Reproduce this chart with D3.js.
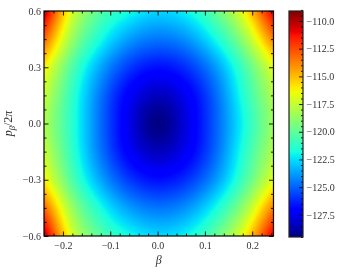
<!DOCTYPE html>
<html><head><meta charset="utf-8">
<script src="https://cdn.jsdelivr.net/npm/d3@7"></script>
<style>
body{margin:0;background:#fff}
#wrap{position:relative;width:340px;height:272px}
canvas,svg{position:absolute;left:0;top:0}
</style></head>
<body><div id="wrap"><canvas id="cv" width="340" height="272"></canvas><svg id="sv" width="340" height="272"></svg></div>
<script>
// ---- data ----
const betaGrid = [-0.24,-0.18,-0.12,-0.06,0,0.06,0.12,0.18,0.24];
const pGrid = [0.6,0.45,0.3,0.15,0,-0.15,-0.3,-0.45,-0.6];
const row_p060 = [-110.0,-117.0,-120.2,-121.8,-122.6,-122.0,-120.0,-116.5,-111.0];
const row_p045 = [-113.0,-118.6,-121.8,-123.8,-124.6,-124.0,-122.0,-118.8,-114.0];
const row_p030 = [-116.0,-120.4,-123.6,-125.8,-126.7,-126.0,-124.0,-120.8,-117.0];
const row_p015 = [-117.4,-121.2,-124.6,-127.2,-128.4,-127.4,-125.0,-121.6,-118.2];
const row_p000 = [-118.0,-121.4,-124.8,-127.6,-129.4,-127.8,-125.2,-122.0,-118.7];
const row_m015 = [-117.4,-121.2,-124.6,-127.2,-128.4,-127.4,-125.0,-121.6,-118.2];
const row_m030 = [-116.0,-120.4,-123.6,-125.8,-126.7,-126.0,-124.0,-120.8,-117.0];
const row_m045 = [-113.0,-118.6,-121.8,-123.8,-124.6,-124.0,-122.0,-118.8,-114.0];
const row_m060 = [-110.0,-117.0,-120.2,-121.8,-122.6,-122.0,-120.0,-116.5,-111.0];
const zRows = [row_p060,row_p045,row_p030,row_p015,row_p000,row_m015,row_m030,row_m045,row_m060];
const xTicks = [-0.2,-0.1,0,0.1,0.2];
const yTicks = [-0.6,-0.3,0,0.3,0.6];
const cTicks = [-110,-112.5,-115,-117.5,-120,-122.5,-125,-127.5];
const xDomain = [-0.24,0.245];
const yDomain = [-0.6,0.6];
const cDomain = [-129.5,-109.1];

// ---- layout ----
const L=44, R=273.5, T=11, B=236;
const CBL=289, CBR=303, CBT=11, CBB=237;
const x = d3.scaleLinear().domain(xDomain).range([L,R]);
const y = d3.scaleLinear().domain(yDomain).range([B,T]);
const cs = d3.scaleLinear().domain(cDomain).range([CBB,CBT]);
const tnorm = d3.scaleLinear().domain(cDomain).range([0,1]).clamp(true);

// jet colormap
const jr = d3.scaleLinear().domain([0,0.35,0.66,0.89,1]).range([0,0,1,1,0.5]).clamp(true);
const jg = d3.scaleLinear().domain([0,0.125,0.375,0.64,0.91,1]).range([0,0,1,1,0,0]).clamp(true);
const jb = d3.scaleLinear().domain([0,0.11,0.34,0.65,1]).range([0.5,1,1,0,0]).clamp(true);
function jet(v){const t=tnorm(v);return [jr(t)*255,jg(t)*255,jb(t)*255];}

// smooth rendering of the grid (Catmull-Rom)
function cr(p0,p1,p2,p3,t){return 0.5*((2*p1)+(-p0+p2)*t+(2*p0-5*p1+4*p2-p3)*t*t+(-p0+3*p1-3*p2+p3)*t*t*t);}
function colVal(r,c){
  const nc=betaGrid.length;
  if(c<0) return 2*zRows[r][0]-zRows[r][1];
  if(c>nc-1) return 2*zRows[r][nc-1]-zRows[r][nc-2];
  return zRows[r][c];
}
function getv(r,c){
  const nr=zRows.length;
  if(r<0) return 2*colVal(0,c)-colVal(1,c);
  if(r>nr-1) return 2*colVal(nr-1,c)-colVal(nr-2,c);
  return colVal(r,c);
}
function sample(bx,py){
  const nc=betaGrid.length,nr=pGrid.length;
  const gx=(bx-betaGrid[0])/(betaGrid[1]-betaGrid[0]);
  const gy=(py-pGrid[0])/(pGrid[1]-pGrid[0]);
  const i=Math.max(0,Math.min(nc-2,Math.floor(gx))), tx=gx-i;
  const j=Math.max(0,Math.min(nr-2,Math.floor(gy))), ty=gy-j;
  const rows=[];
  for(let k=-1;k<=2;k++){
    rows.push(cr(getv(j+k,i-1),getv(j+k,i),getv(j+k,i+1),getv(j+k,i+2),tx));
  }
  return cr(rows[0],rows[1],rows[2],rows[3],ty);
}

const cv=document.getElementById('cv'), ctx=cv.getContext('2d');
const x0=Math.round(L), x1=Math.round(R), y0=Math.round(T), y1=Math.round(B);
const img=ctx.createImageData(x1-x0,y1-y0);
for(let py=y0;py<y1;py++){
  for(let px=x0;px<x1;px++){
    const v=sample(x.invert(px+0.5),y.invert(py+0.5));
    const col=jet(v);
    const k=((py-y0)*(x1-x0)+(px-x0))*4;
    img.data[k]=col[0];img.data[k+1]=col[1];img.data[k+2]=col[2];img.data[k+3]=255;
  }
}
ctx.putImageData(img,x0,y0);
// colorbar
for(let py=CBT;py<CBB;py++){
  const col=jet(cs.invert(py+0.5));
  ctx.fillStyle=`rgb(${col.map(Math.round).join(',')})`;
  ctx.fillRect(CBL,py,CBR-CBL,1);
}

// ---- axes ----
const svg=d3.select('#sv');
const FONT='"Liberation Serif","DejaVu Serif",serif';
const fmt=d3.format('.1f');
const xMinor=d3.range(-12,13).map(d=>d*0.02).filter(d=>Math.abs(Math.round(d*10)-d*10)>1e-6);
const yMinor=d3.range(-8,9).map(d=>d*0.075).filter(d=>Math.abs(d/0.3-Math.round(d/0.3))>1e-6);
const cMinor=d3.range(-259,-217).map(d=>d*0.5).filter(d=>Math.abs(d/2.5-Math.round(d/2.5))>1e-6);
function style(g){g.select('.domain').remove();g.attr('font-family',FONT).attr('font-size',10);g.selectAll('line').attr('stroke','#000').attr('stroke-width',0.9);g.selectAll('text').attr('fill','#333');}

svg.append('g').attr('transform',`translate(0,${B})`).call(d3.axisBottom(x).tickValues(xTicks).tickFormat(fmt).tickSizeInner(-4.5).tickSizeOuter(0).tickPadding(5.5)).call(style);
svg.append('g').attr('transform',`translate(0,${B})`).call(d3.axisBottom(x).tickValues(xMinor).tickFormat('').tickSizeInner(-2.5).tickSizeOuter(0)).call(style);
svg.append('g').attr('transform',`translate(0,${T})`).call(d3.axisTop(x).tickValues(xTicks).tickFormat('').tickSizeInner(-4.5).tickSizeOuter(0)).call(style);
svg.append('g').attr('transform',`translate(0,${T})`).call(d3.axisTop(x).tickValues(xMinor).tickFormat('').tickSizeInner(-2.5).tickSizeOuter(0)).call(style);
svg.append('g').attr('transform',`translate(${L},0)`).call(d3.axisLeft(y).tickValues(yTicks).tickFormat(fmt).tickSizeInner(-4.5).tickSizeOuter(0).tickPadding(3)).call(style);
svg.append('g').attr('transform',`translate(${L},0)`).call(d3.axisLeft(y).tickValues(yMinor).tickFormat('').tickSizeInner(-2.5).tickSizeOuter(0)).call(style);
svg.append('g').attr('transform',`translate(${R},0)`).call(d3.axisRight(y).tickValues(yTicks).tickFormat('').tickSizeInner(-4.5).tickSizeOuter(0)).call(style);
svg.append('g').attr('transform',`translate(${R},0)`).call(d3.axisRight(y).tickValues(yMinor).tickFormat('').tickSizeInner(-2.5).tickSizeOuter(0)).call(style);
svg.append('rect').attr('x',L).attr('y',T).attr('width',R-L).attr('height',B-T).attr('fill','none').attr('stroke','#000').attr('stroke-width',1.2);

// colorbar axis
svg.append('g').attr('transform',`translate(${CBR},0)`).call(d3.axisRight(cs).tickValues(cTicks).tickFormat(fmt).tickSizeInner(-4).tickSizeOuter(0).tickPadding(3.5)).call(style);
svg.append('g').attr('transform',`translate(${CBR},0)`).call(d3.axisRight(cs).tickValues(cMinor).tickFormat('').tickSizeInner(-2).tickSizeOuter(0)).call(style);
svg.append('rect').attr('x',CBL).attr('y',CBT).attr('width',CBR-CBL).attr('height',CBB-CBT).attr('fill','none').attr('stroke','#222').attr('stroke-width',1.2);

// axis labels
svg.append('text').attr('x',(L+R)/2).attr('y',264).attr('text-anchor','middle').attr('font-family',FONT).attr('font-size',12).attr('font-style','italic').attr('fill','#333').text('β');
const yl=svg.append('text').attr('transform',`translate(12,${(T+B)/2}) rotate(-90)`).attr('text-anchor','middle').attr('font-family',FONT).attr('font-size',12).attr('fill','#333');
yl.append('tspan').attr('font-style','italic').text('p');
yl.append('tspan').attr('font-style','italic').attr('font-size',8.5).attr('dy',2.5).text('β');
yl.append('tspan').attr('dy',-2.5).text('/2');
yl.append('tspan').attr('font-style','italic').text('π');
</script></body></html>
